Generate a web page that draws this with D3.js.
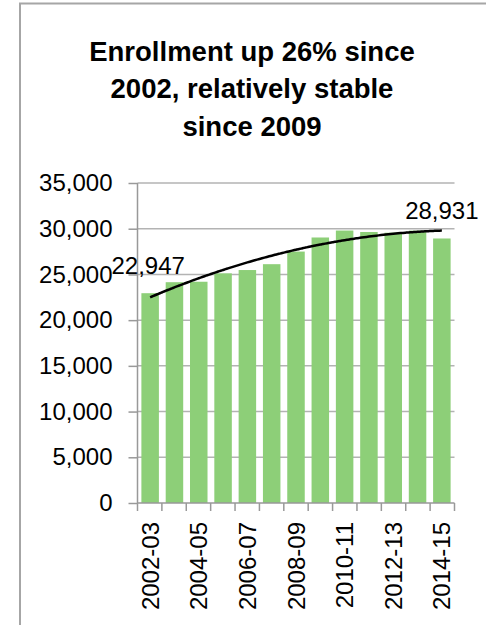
<!DOCTYPE html>
<html>
<head>
<meta charset="utf-8">
<script src="https://cdn.jsdelivr.net/npm/d3@7"></script>
<style>
  html, body { margin: 0; padding: 0; background: #fff; }
  svg { display: block; }
  text { font-family: "Liberation Sans", Arial, sans-serif; fill: #000; }
</style>
</head>
<body>
<svg id="chart" width="486" height="625"></svg>
<script>
// School years and total enrollment
const years = ["2002-03","2003-04","2004-05","2005-06","2006-07","2007-08","2008-09",
               "2009-10","2010-11","2011-12","2012-13","2013-14","2014-15"];
const enrollment = [22947, 24150, 24200, 25120, 25480, 26120, 27500,
                    29040, 29800, 29640, 29560, 29790, 28931];
const yTicks = [0, 5000, 10000, 15000, 20000, 25000, 30000, 35000];
const xLabelYears = ["2002-03","2004-05","2006-07","2008-09","2010-11","2012-13","2014-15"];
const labelledYears = ["2002-03","2014-15"];
const titleLines = ["Enrollment up 26% since", "2002, relatively stable", "since 2009"];

const svg = d3.select("#chart");
const W = 486, H = 625;
const plot = { left: 137.5, right: 454.5, top: 183, bottom: 503 };

// outer chart frame (runs off the right and bottom edges)
svg.append("path")
  .attr("d", `M${W + 5},3.5 H20 V${H + 5}`)
  .attr("fill", "none").attr("stroke", "#a6a6a6").attr("stroke-width", 2);

// title
const title = svg.append("text")
  .attr("text-anchor", "middle")
  .style("font-weight", "bold").style("font-size", "27.5px");
titleLines.forEach((t, i) => {
  title.append("tspan").attr("x", 252).attr("y", 60.5 + i * 37.5).text(t);
});

const x = d3.scaleBand().domain(years)
  .range([plot.left, plot.right]).paddingInner(0.28).paddingOuter(0.16);
const y = d3.scaleLinear().domain([0, 35000]).range([plot.bottom, plot.top]);

// horizontal gridlines
svg.append("g").selectAll("line").data(yTicks.filter(d => d > 0)).join("line")
  .attr("x1", plot.left).attr("x2", plot.right)
  .attr("y1", d => y(d)).attr("y2", d => y(d))
  .attr("stroke", "#b3b3b3").attr("stroke-width", 1.5);

// bars
svg.append("g").selectAll("rect").data(years).join("rect")
  .attr("x", d => x(d))
  .attr("width", x.bandwidth())
  .attr("y", (d, i) => y(enrollment[i]))
  .attr("height", (d, i) => y(0) - y(enrollment[i]))
  .attr("fill", "#8dcf78");

// y axis
const yAxis = svg.append("g").attr("transform", `translate(${plot.left},0)`)
  .call(d3.axisLeft(y).tickValues(yTicks).tickSize(9).tickPadding(16)
    .tickFormat(d3.format(",")));
yAxis.selectAll("line, path").attr("stroke", "#999").attr("stroke-width", 1.5);
yAxis.select(".domain").attr("d", `M0,${plot.top}V${plot.bottom}`);
yAxis.selectAll("text").style("font-size", "24px")
  .style("font-family", "'Liberation Sans', Arial, sans-serif").attr("fill", "#000");

// x axis: tick marks on category boundaries, every other label rotated
const xAxisG = svg.append("g");
xAxisG.append("line")
  .attr("x1", plot.left).attr("x2", plot.right)
  .attr("y1", plot.bottom).attr("y2", plot.bottom)
  .attr("stroke", "#999").attr("stroke-width", 1.5);
const step = x.step();
const boundaries = d3.range(years.length + 1)
  .map(i => plot.left + i * (plot.right - plot.left) / years.length);
xAxisG.selectAll("line.tick").data(boundaries).join("line").attr("class", "tick")
  .attr("x1", d => d).attr("x2", d => d)
  .attr("y1", plot.bottom).attr("y2", plot.bottom + 8)
  .attr("stroke", "#999").attr("stroke-width", 1.5);
xAxisG.selectAll("text").data(xLabelYears).join("text")
  .attr("transform", d => `translate(${x(d) + x.bandwidth() / 2 + 8.5},${plot.bottom + 19}) rotate(-90)`)
  .attr("text-anchor", "end")
  .style("font-size", "24px")
  .text(d => d);

// second-order polynomial trendline (least squares on category index)
function polyFit2(xs, ys) {
  const n = xs.length;
  const s = [0,0,0,0,0], t = [0,0,0];
  for (let i = 0; i < n; i++) {
    for (let k = 0; k < 5; k++) s[k] += Math.pow(xs[i], k);
    for (let k = 0; k < 3; k++) t[k] += ys[i] * Math.pow(xs[i], k);
  }
  const A = [[s[0], s[1], s[2], t[0]], [s[1], s[2], s[3], t[1]], [s[2], s[3], s[4], t[2]]];
  for (let c = 0; c < 3; c++) {
    for (let r = c + 1; r < 3; r++) {
      const f = A[r][c] / A[c][c];
      for (let k = c; k < 4; k++) A[r][k] -= f * A[c][k];
    }
  }
  const b = [0,0,0];
  for (let r = 2; r >= 0; r--) {
    let v = A[r][3];
    for (let k = r + 1; k < 3; k++) v -= A[r][k] * b[k];
    b[r] = v / A[r][r];
  }
  return b;
}
const idx = years.map((d, i) => i + 1);
const coef = polyFit2(idx, enrollment);
const trendPts = d3.range(1, years.length + 0.001, 0.1).map(t => {
  const pos = x(years[0]) + x.bandwidth() / 2 + (t - 1) * step;
  return [pos, y(coef[0] + coef[1] * t + coef[2] * t * t)];
});
svg.append("path")
  .attr("d", d3.line().curve(d3.curveBasis)(trendPts))
  .attr("fill", "none").attr("stroke", "#000").attr("stroke-width", 2.5);

// value labels on first and last year
const labelShift = { "2002-03": -2, "2014-15": 0 };
svg.append("g").selectAll("text").data(labelledYears).join("text")
  .attr("x", d => x(d) + x.bandwidth() / 2 + labelShift[d])
  .attr("y", d => y(enrollment[years.indexOf(d)]) - 19)
  .attr("text-anchor", "middle")
  .style("font-size", "24px")
  .text(d => d3.format(",")(enrollment[years.indexOf(d)]));
</script>
</body>
</html>
